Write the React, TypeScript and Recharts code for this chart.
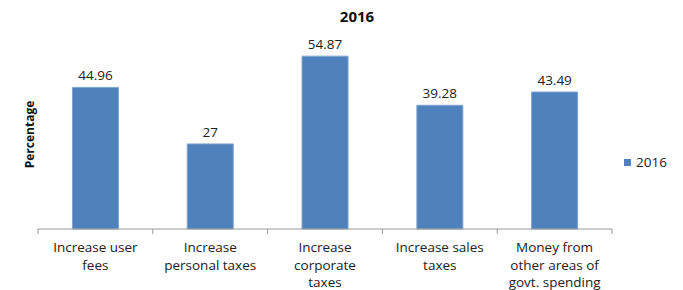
import { BarChart, Bar, XAxis, YAxis, LabelList } from 'recharts';

const categories = [
    'Increase user fees',
    'Increase personal taxes',
    'Increase corporate taxes',
    'Increase sales taxes',
    'Money from other areas of govt. spending',
];
const tickLines = [
    ['Increase user', 'fees'],
    ['Increase', 'personal taxes'],
    ['Increase', 'corporate', 'taxes'],
    ['Increase sales', 'taxes'],
    ['Money from', 'other areas of', 'govt. spending'],
];
const values2016 = [44.96, 27, 54.87, 39.28, 43.49];

const data = categories.map((name, i) => ({ name, lines: tickLines[i], v2016: values2016[i] }));

const FONT = '"Open Sans", "Liberation Sans", sans-serif';
const BLUE = '#4F81BD';
const BAND = 574 / categories.length;

// category label + tick marks on the band edges (excel style)
function CatTick(props: any) {
    const { x, y, index, payload } = props;
    const lines: string[] = data[index]?.lines || [payload.value];
    const last = index === categories.length - 1;
    return (
        <g>
            <line x1={x - BAND / 2} x2={x - BAND / 2} y1={y - 8} y2={y - 3} stroke="#999" />
            {last && <line x1={x + BAND / 2} x2={x + BAND / 2} y1={y - 8} y2={y - 3} stroke="#999" />}
            {lines.map((l, k) => (
                <text key={k} x={x} y={y + 15 + k * 17.5} textAnchor="middle" fontSize={13.5} fill="#222" fontFamily={FONT}>
                    {l}
                </text>
            ))}
        </g>
    );
}

export default function App() {
    return (
        <div style={{ position: 'absolute', left: 0, top: 0, width: 683, height: 290, background: '#fff' }}>
            <div
                style={{
                    position: 'absolute',
                    top: 6,
                    left: 0,
                    width: 714,
                    textAlign: 'center',
                    fontFamily: FONT,
                    fontWeight: 'bold',
                    fontSize: 15,
                    color: '#111',
                }}
            >
                2016
            </div>
            <div
                style={{
                    position: 'absolute',
                    left: 624,
                    top: 153,
                    display: 'flex',
                    alignItems: 'center',
                    fontFamily: FONT,
                    fontSize: 13.5,
                    color: '#222',
                }}
            >
                <span style={{ width: 7, height: 7, background: BLUE, display: 'inline-block', marginRight: 5 }} />
                2016
            </div>
            <BarChart
                width={683}
                height={290}
                data={data}
                margin={{ top: 40, right: 71, left: 0, bottom: 0 }}
                barCategoryGap="30%"
            >
                <XAxis
                    dataKey="name"
                    height={61}
                    interval={0}
                    tickLine={false}
                    axisLine={{ stroke: '#999' }}
                    tick={<CatTick />}
                />
                <YAxis
                    width={38}
                    domain={[0, 60]}
                    axisLine={false}
                    tickLine={false}
                    tick={false}
                    label={{
                        value: 'Percentage',
                        angle: -90,
                        position: 'center',
                        dx: 11,
                        style: { fontFamily: FONT, fontWeight: 'bold', fontSize: 12, fill: '#111' },
                    }}
                />
                <Bar dataKey="v2016" name="2016" fill={BLUE} stroke="#7FA3CF" strokeWidth={1} isAnimationActive={false}>
                    <LabelList
                        dataKey="v2016"
                        position="top"
                        offset={7}
                        style={{ fontFamily: FONT, fontSize: 13.5, fill: '#222' }}
                    />
                </Bar>
            </BarChart>
        </div>
    );
}
